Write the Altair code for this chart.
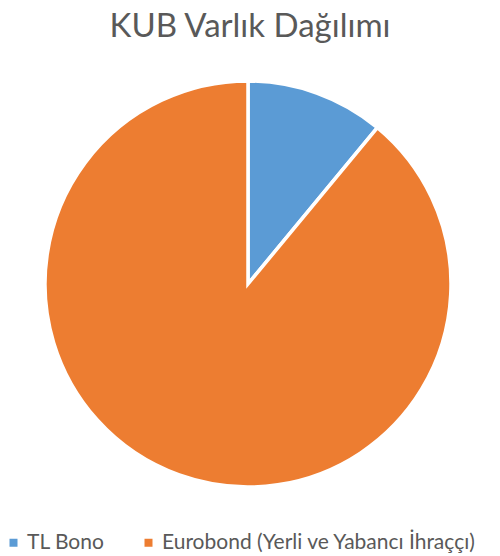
import altair as alt
import pandas as pd

categories = ["TL Bono", "Eurobond (Yerli ve Yabancı İhraççı)"]
values = [11, 89]
colors = ["#5B9BD5", "#ED7D31"]

df = pd.DataFrame({"kategori": categories, "deger": values, "sira": [0, 1]})

chart = alt.Chart(df).mark_arc(outerRadius=203, stroke="white", strokeWidth=3.5).encode(
    theta=alt.Theta("deger:Q", stack=True),
    order=alt.Order("sira:Q"),
    color=alt.Color(
        "kategori:N",
        scale=alt.Scale(domain=categories, range=colors),
        legend=alt.Legend(
            title=None,
            orient="none",
            direction="horizontal",
            legendX=-5,
            legendY=464,
            padding=0,
            symbolType="square",
            symbolSize=64,
            symbolStrokeWidth=0,
            labelFontSize=21,
            labelColor="#595959",
            labelFont="Lato",
            labelLimit=450,
            columnPadding=33,
            labelOffset=3,
        ),
    ),
    x=alt.value(240),
    y=alt.value(216),
).properties(
    width=484,
    height=488,
    padding={"left": 0, "right": 0, "top": 60, "bottom": 0},
    autosize=alt.AutoSizeParams(type="none"),
    title=alt.TitleParams(
        "KUB Varlık Dağılımı",
        fontSize=33,
        font="Lato",
        fontWeight="normal",
        color="#595959",
        anchor="middle",
        offset=24,
    ),
).configure_view(stroke=None)

chart.save("out.html", embed_options={"renderer": "svg", "actions": False})
